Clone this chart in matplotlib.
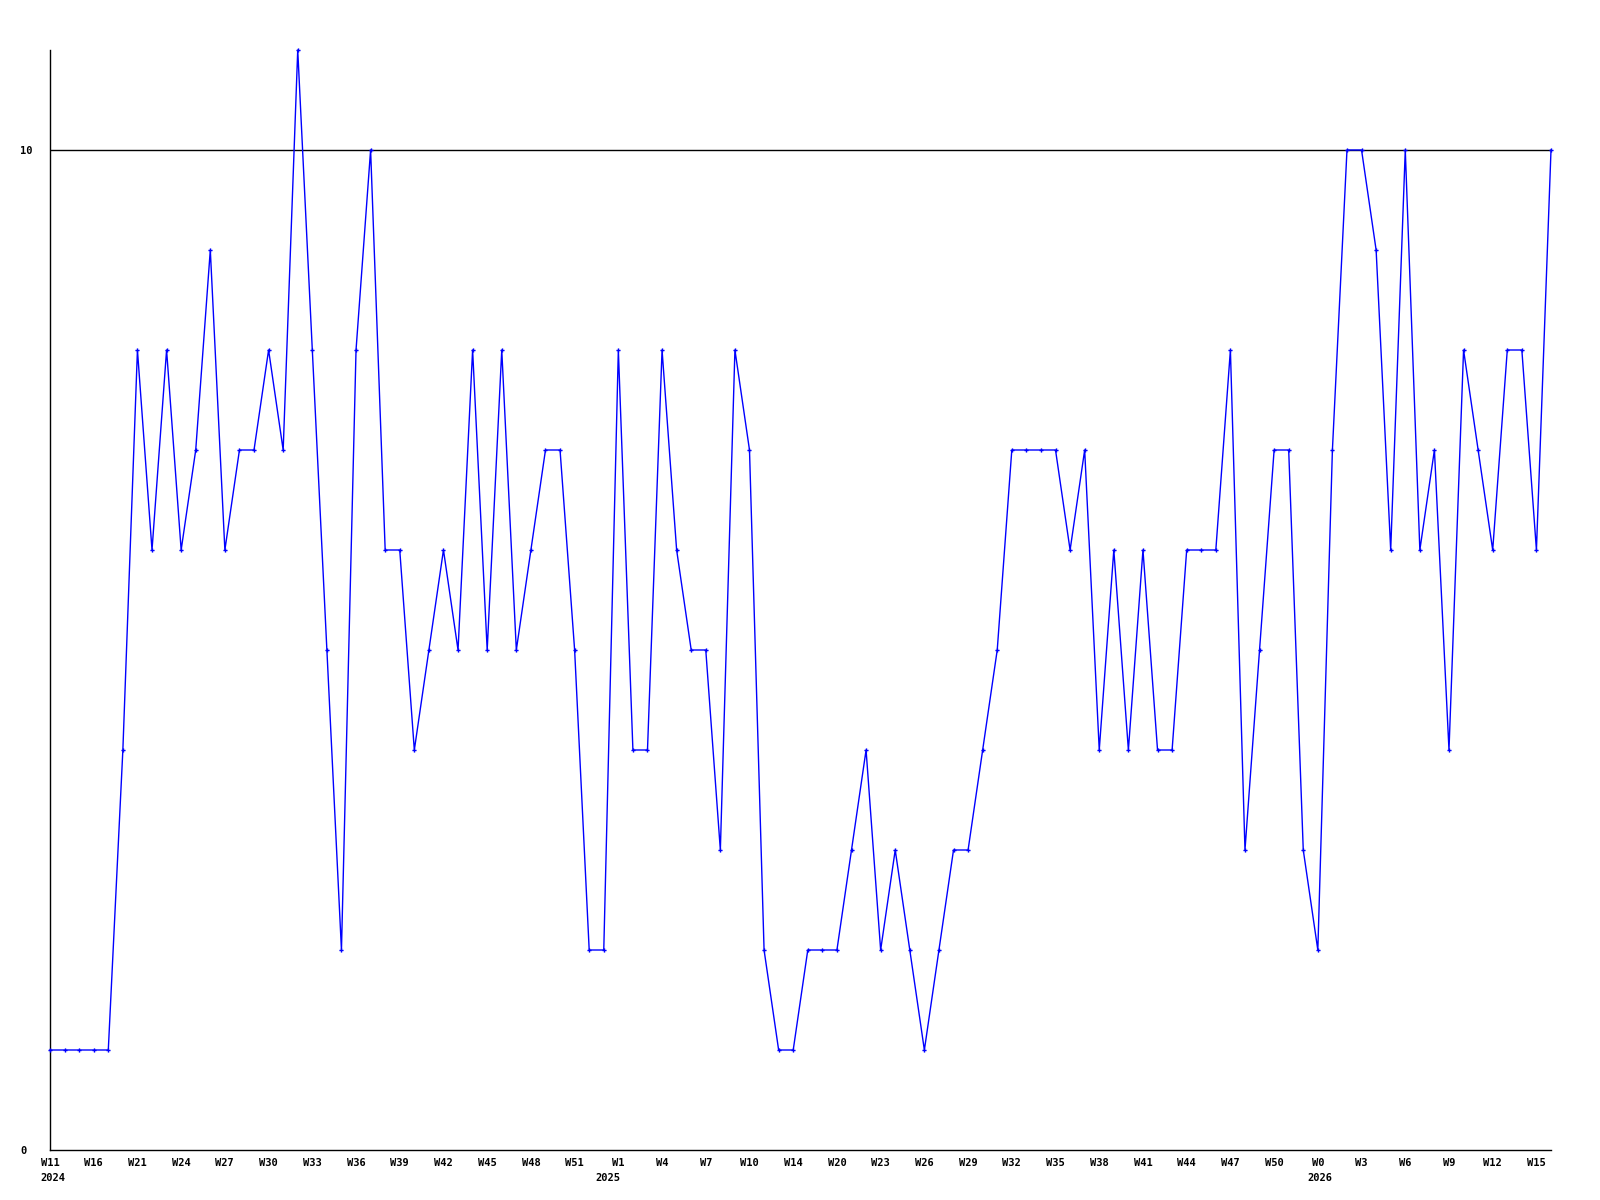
# %% biblioteke

import numpy as np
import matplotlib
matplotlib.use('Agg')
import matplotlib.pyplot as plt
from matplotlib.transforms import offset_copy

# %% podaci

# vrednost po nedelji (104 tacke, kategorijska x osa)
vrednosti = [1, 1, 1, 1, 1, 4, 8, 6, 8, 6, 7, 9, 6, 7, 7, 8, 7, 11, 8, 5,
             2, 8, 10, 6, 6, 4, 5, 6, 5, 8, 5, 8, 5, 6, 7, 7, 5, 2, 2, 8,
             4, 4, 8, 6, 5, 5, 3, 8, 7, 2, 1, 1, 2, 2, 2, 3, 4, 2, 3, 2,
             1, 2, 3, 3, 4, 5, 7, 7, 7, 7, 6, 7, 4, 6, 4, 6, 4, 4, 6, 6,
             6, 8, 3, 5, 7, 7, 3, 2, 7, 10, 10, 9, 6, 10, 6, 7, 4, 8, 7, 6,
             8, 8, 6, 10]

# oznake na svakoj trecoj tacki
oznake_nedelja = ['W11', 'W16', 'W21', 'W24', 'W27', 'W30', 'W33', 'W36', 'W39',
                  'W42', 'W45', 'W48', 'W51', 'W1', 'W4', 'W7', 'W10', 'W14',
                  'W20', 'W23', 'W26', 'W29', 'W32', 'W35', 'W38', 'W41', 'W44',
                  'W47', 'W50', 'W0', 'W3', 'W6', 'W9', 'W12', 'W15']

godine = ['2024', '2025', '2026']
godine_idx = [0, 39, 87]

y_tickovi = [0, 10]
granica = 10

# %% grafik

plt.rcParams['font.family'] = ['DejaVu Sans Mono']

fig = plt.figure(figsize=(16, 12), dpi=100)
ax = fig.add_axes([50 / 1600, 50 / 1200, 1501 / 1600, 1100 / 1200])

x = np.arange(len(vrednosti))
ax.plot(x, vrednosti, color='#0000ff', linewidth=1.0,
        marker='P', markersize=3, markeredgewidth=0, clip_on=False, zorder=3)

ax.axhline(granica, color='black', linewidth=1.0, zorder=2)

ax.set_xlim(0, len(vrednosti) - 1)
ax.set_ylim(0, 11)

ax.spines['top'].set_visible(False)
ax.spines['right'].set_visible(False)
ax.spines['left'].set_linewidth(1.0)
ax.spines['bottom'].set_linewidth(1.0)

tick_pos = x[::3]
ax.set_xticks(tick_pos)
ax.set_xticklabels(oznake_nedelja, fontsize=7.5, fontweight='bold')
ax.tick_params(axis='x', length=0, pad=6)

ax.set_yticks(y_tickovi)
ax.set_yticklabels([str(v) for v in y_tickovi], fontsize=7.5, fontweight='bold')
ax.tick_params(axis='y', length=0, pad=21.6)
for lab in ax.get_yticklabels():
    lab.set_horizontalalignment('left')

# godine ispod oznaka nedelja
for god, idx in zip(godine, godine_idx):
    if god == '2025':
        tr = offset_copy(ax.get_xaxis_transform(), fig=fig, x=1.5, y=-16.5, units='points')
        ha = 'right'
    else:
        tr = offset_copy(ax.get_xaxis_transform(), fig=fig, x=-7.2, y=-16.5, units='points')
        ha = 'left'
    ax.text(idx, 0, god, transform=tr, ha=ha, va='top',
            fontsize=7.5, fontweight='bold')

fig.savefig('out.png', dpi=100, facecolor='white')
